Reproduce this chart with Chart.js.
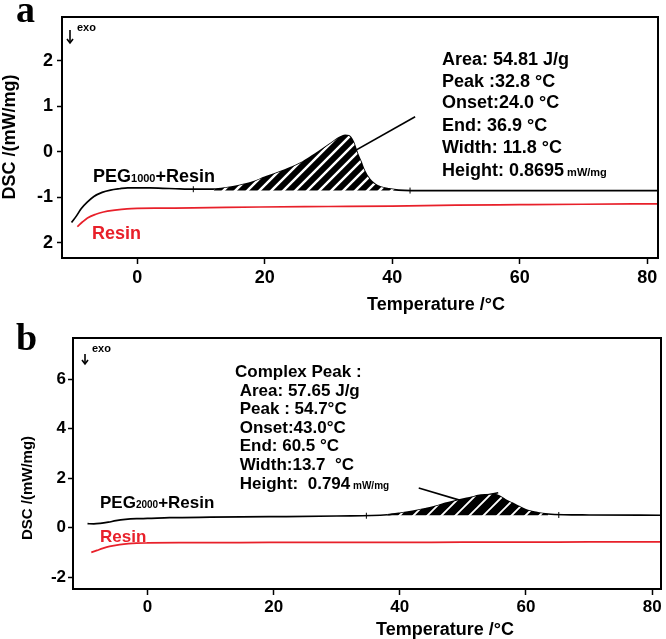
<!DOCTYPE html>
<html><head><meta charset="utf-8">
<script src="https://cdn.jsdelivr.net/npm/chart.js@4"></script>
<style>
html,body{margin:0;padding:0;background:#fff;width:666px;height:639px;overflow:hidden}
.wrap{position:absolute;left:0;width:666px}
</style></head><body>
<div class="wrap" style="top:0;height:320px"><canvas id="ca"></canvas></div>
<div class="wrap" style="top:320px;height:319px"><canvas id="cb"></canvas></div>
<script>
// ---------- Panel a data ----------
const tempA_peg = [-10.3,-9.5,-8.8,-7.8,-6.8,-5.5,-4.2,-2.8,-1.5,0,2,4,6,8,10,12,14,16,18,20,22,24,26,28,29.5,30.7,31.8,32.6,33.2,33.9,34.5,35.1,35.6,36.5,37.3,38.2,39.5,41,43,50,60,70,81.6];
const dscA_peg  = [-1.55,-1.40,-1.25,-1.10,-0.98,-0.89,-0.84,-0.81,-0.79,-0.79,-0.79,-0.80,-0.81,-0.82,-0.82,-0.82,-0.79,-0.74,-0.67,-0.56,-0.46,-0.35,-0.22,-0.04,0.10,0.22,0.32,0.36,0.35,0.22,-0.02,-0.22,-0.40,-0.61,-0.71,-0.77,-0.81,-0.84,-0.85,-0.85,-0.85,-0.85,-0.85];
const tempA_resin = [-9.4,-8.6,-7.8,-6.5,-5.3,-3.5,-1.6,0,4,8.8,19.3,30,40,50,60,70,81.6];
const dscA_resin  = [-1.64,-1.54,-1.45,-1.37,-1.32,-1.28,-1.25,-1.24,-1.235,-1.23,-1.21,-1.20,-1.19,-1.17,-1.16,-1.15,-1.14];
const tangentA_t = [27.5,43.6];
const tangentA_d = [-0.5,0.77];
const markA_t = [8.8,42.8];
const markA_d = [-0.82,-0.85];
const baseA = -0.85;
const peakRangeA = [12,41];
const xTicksA = [0,20,40,60,80];
const yTicksA = [-2,-1,0,1,2];
const yTickLabelsA = ['2','-1','0','1','2'];
const annotA = ['Area: 54.81 J/g','Peak :32.8 °C','Onset:24.0 °C','End: 36.9 °C','Width: 11.8 °C','Height: 0.8695'];

// ---------- Panel b data ----------
const tempB_peg = [-9.5,-8.5,-7.5,-6.2,-5,-3.5,-1.7,0,3.5,10,19.3,30,38,40,42,44,46,47.2,49,50.4,51.5,52.4,53.5,55.1,55.9,56.7,57.8,58.8,60.3,61.9,63.5,66,70,81.3];
const dscB_peg  = [0.16,0.15,0.17,0.22,0.28,0.33,0.36,0.37,0.40,0.42,0.44,0.47,0.52,0.58,0.66,0.76,0.88,0.98,1.09,1.17,1.23,1.29,1.32,1.33,1.26,1.13,0.99,0.86,0.69,0.60,0.55,0.52,0.51,0.50];
const tempB_resin = [-8.9,-8,-7.1,-6,-4.4,-3,-1.7,0,5,10,19.3,30,40,50,60,70,81.3];
const dscB_resin  = [-1.0,-0.92,-0.84,-0.76,-0.69,-0.65,-0.63,-0.62,-0.61,-0.61,-0.60,-0.60,-0.60,-0.59,-0.59,-0.58,-0.58];
const pointerB_t = [43,49.6];
const pointerB_d = [1.6,1.1];
const tangentB_t = [52.4,55.6];
const tangentB_d = [1.25,1.41];
const markB_t = [34.7,65.2];
const markB_d = [0.48,0.51];
const baseB = 0.5;
const peakRangeB = [38,64];
const xTicksB = [0,20,40,60,80];
const yTicksB = [-2,0,2,4,6];
const yTickLabelsB = ['-2','0','2','4','6'];
const annotB = ['Complex Peak :',' Area: 57.65 J/g',' Peak : 54.7°C',' Onset:43.0°C',' End: 60.5 °C',' Width:13.7  °C',' Height:  0.794'];

const RED = '#e8202a';
const FONT = '"Liberation Sans", Arial, sans-serif';

function pts(xs, ys){ return xs.map((x,i)=>({x:x,y:ys[i]})); }
function ptsRange(xs, ys, r){ return pts(xs,ys).filter(p=>p.x>=r[0]&&p.x<=r[1]); }

function makePattern(size, lw){
  const c=document.createElement('canvas'); c.width=c.height=size;
  const g=c.getContext('2d'); g.fillStyle='#fff'; g.fillRect(0,0,size,size);
  g.strokeStyle='#000'; g.lineWidth=lw; g.lineCap='square';
  g.beginPath();
  g.moveTo(-size/2,size/2); g.lineTo(size/2,-size/2);
  g.moveTo(0,size); g.lineTo(size,0);
  g.moveTo(size/2,size*1.5); g.lineTo(size*1.5,size/2);
  g.stroke();
  return g.createPattern(c,'repeat');
}

function drawParts(ctx, x, y, parts){
  ctx.textAlign='left'; ctx.textBaseline='alphabetic';
  for(const p of parts){
    ctx.font = (p.w||'bold')+' '+p.s+'px '+FONT;
    ctx.fillStyle = p.c||'#000';
    ctx.fillText(p.t, x, y+(p.dy||0));
    x += ctx.measureText(p.t).width;
  }
}

function build(id, cfg){
  const overlay = {
    id:'overlay'+id,
    afterDraw(chart){
      const ctx=chart.ctx, a=chart.chartArea;
      ctx.save();
      ctx.strokeStyle='#000'; ctx.lineWidth=2;
      ctx.strokeRect(a.left,a.top,a.right-a.left,a.bottom-a.top);
      cfg.texts(ctx);
      ctx.restore();
    }
  };
  return new Chart(document.getElementById(id), {
    type:'line',
    data:{datasets:[
      {data:cfg.peak, fill:{value:cfg.base}, backgroundColor:cfg.pattern, borderWidth:0, borderColor:'rgba(0,0,0,0)', pointRadius:0, cubicInterpolationMode:'monotone'},
      {data:cfg.peg, borderColor:'#000', borderWidth:1.7, pointRadius:0, fill:false, cubicInterpolationMode:'monotone'},
      {data:cfg.resin, borderColor:RED, borderWidth:1.7, pointRadius:0, fill:false, cubicInterpolationMode:'monotone'},
      ...cfg.lines.map(l=>({data:l, borderColor:'#000', borderWidth:1.6, pointRadius:0, fill:false, tension:0})),
      {data:cfg.marks, showLine:false, pointStyle:'line', rotation:90, pointRadius:3, borderColor:'#000', borderWidth:1, backgroundColor:'#000'}
    ]},
    options:{
      responsive:true, maintainAspectRatio:false, animation:false,
      layout:{padding:cfg.padding},
      plugins:{legend:{display:false}, tooltip:{enabled:false}},
      scales:{
        x:{type:'linear', min:cfg.xMin, max:cfg.xMax,
          afterFit:s=>{s.height=cfg.xH;},
          afterBuildTicks:s=>{s.ticks=cfg.xTicks.map(v=>({value:v}));},
          ticks:{color:'#000', font:{family:FONT, weight:'bold', size:cfg.tickSize}, padding:cfg.xPad, maxRotation:0, autoSkip:false},
          grid:{drawOnChartArea:false, drawTicks:true, tickLength:6, tickColor:'#000', tickWidth:1.5},
          border:{display:true, color:'#000', width:2}
        },
        y:{type:'linear', min:cfg.yMin, max:cfg.yMax,
          afterFit:s=>{s.width=cfg.yW;},
          afterBuildTicks:s=>{s.ticks=cfg.yTicks.map(v=>({value:v}));},
          ticks:{color:'#000', font:{family:FONT, weight:'bold', size:cfg.tickSize}, padding:cfg.yPad, autoSkip:false,
            callback:v=>cfg.yLabels[cfg.yTicks.indexOf(v)]},
          grid:{drawOnChartArea:false, drawTicks:true, tickLength:5, tickColor:'#000', tickWidth:1.5},
          border:{display:true, color:'#000', width:2}
        }
      }
    },
    plugins:[overlay]
  });
}

function arrow(ctx, x, y1, y2){
  ctx.strokeStyle='#000'; ctx.lineWidth=1.6;
  ctx.beginPath(); ctx.moveTo(x,y1); ctx.lineTo(x,y2); ctx.stroke();
  ctx.beginPath(); ctx.moveTo(x-3,y2-4); ctx.lineTo(x,y2); ctx.lineTo(x+3,y2-4); ctx.stroke();
}
function yTitle(ctx, x, y, size){
  ctx.save(); ctx.translate(x,y); ctx.rotate(-Math.PI/2);
  ctx.font='bold '+size+'px '+FONT; ctx.fillStyle='#000'; ctx.textAlign='center'; ctx.textBaseline='middle';
  ctx.fillText('DSC /(mW/mg)',0,0); ctx.restore();
}
function xTitle(ctx, x, y, size){
  ctx.font='bold '+size+'px '+FONT; ctx.fillStyle='#000'; ctx.textAlign='center'; ctx.textBaseline='middle';
  ctx.fillText('Temperature /°C',x,y);
}

build('ca', {
  peak:ptsRange(tempA_peg,dscA_peg,peakRangeA), base:baseA, pattern:makePattern(12,6),
  peg:pts(tempA_peg,dscA_peg), resin:pts(tempA_resin,dscA_resin),
  lines:[pts(tangentA_t,tangentA_d)], marks:pts(markA_t,markA_d),
  padding:{left:0,right:8,top:17,bottom:0}, xH:62, yW:62,
  xMin:-11.8, xMax:81.7, yMin:-2.33, yMax:2.96,
  xTicks:xTicksA, yTicks:yTicksA, yLabels:yTickLabelsA,
  tickSize:18, xPad:3, yPad:4,
  texts(ctx){
    ctx.font='bold 38px "Liberation Serif", serif'; ctx.fillStyle='#000'; ctx.textAlign='left'; ctx.textBaseline='alphabetic';
    ctx.fillText('a',16,22);
    arrow(ctx,70,30,43);
    drawParts(ctx,77,31,[{t:'exo',s:11}]);
    drawParts(ctx,93,182,[{t:'PEG',s:18},{t:'1000',s:11},{t:'+Resin',s:18}]);
    drawParts(ctx,92,239,[{t:'Resin',s:18,c:RED}]);
    const ys=[64.5,86.5,107.5,130.5,152.5,175.5];
    annotA.forEach((t,i)=>{
      const parts=[{t:t,s:18}];
      if(i===annotA.length-1) parts.push({t:' mW/mg',s:11});
      drawParts(ctx,442,ys[i],parts);
    });
    xTitle(ctx,436,305,18);
    yTitle(ctx,10,137,18);
  }
});

build('cb', {
  peak:ptsRange(tempB_peg,dscB_peg,peakRangeB), base:baseB, pattern:makePattern(14,8),
  peg:pts(tempB_peg,dscB_peg), resin:pts(tempB_resin,dscB_resin),
  lines:[pts(pointerB_t,pointerB_d),pts(tangentB_t,tangentB_d)], marks:pts(markB_t,markB_d),
  padding:{left:0,right:2,top:18,bottom:0}, xH:50, yW:73,
  xMin:-11.8, xMax:81.4, yMin:-2.48, yMax:7.66,
  xTicks:xTicksB, yTicks:yTicksB, yLabels:yTickLabelsB,
  tickSize:17, xPad:2, yPad:2,
  texts(ctx){
    ctx.font='bold 38px "Liberation Serif", serif'; ctx.fillStyle='#000'; ctx.textAlign='left'; ctx.textBaseline='alphabetic';
    ctx.fillText('b',16,30);
    arrow(ctx,85,34,44);
    drawParts(ctx,92,32,[{t:'exo',s:11}]);
    drawParts(ctx,100,188,[{t:'PEG',s:17},{t:'2000',s:10},{t:'+Resin',s:17}]);
    drawParts(ctx,100,222,[{t:'Resin',s:17,c:RED}]);
    const ys=[57,76,94,113,131,150,169];
    annotB.forEach((t,i)=>{
      const parts=[{t:t,s:17}];
      if(i===annotB.length-1) parts.push({t:' mW/mg',s:10});
      drawParts(ctx,235,ys[i],parts);
    });
    xTitle(ctx,445,310,18);
    yTitle(ctx,28,168,15);
  }
});
</script>
</body></html>
